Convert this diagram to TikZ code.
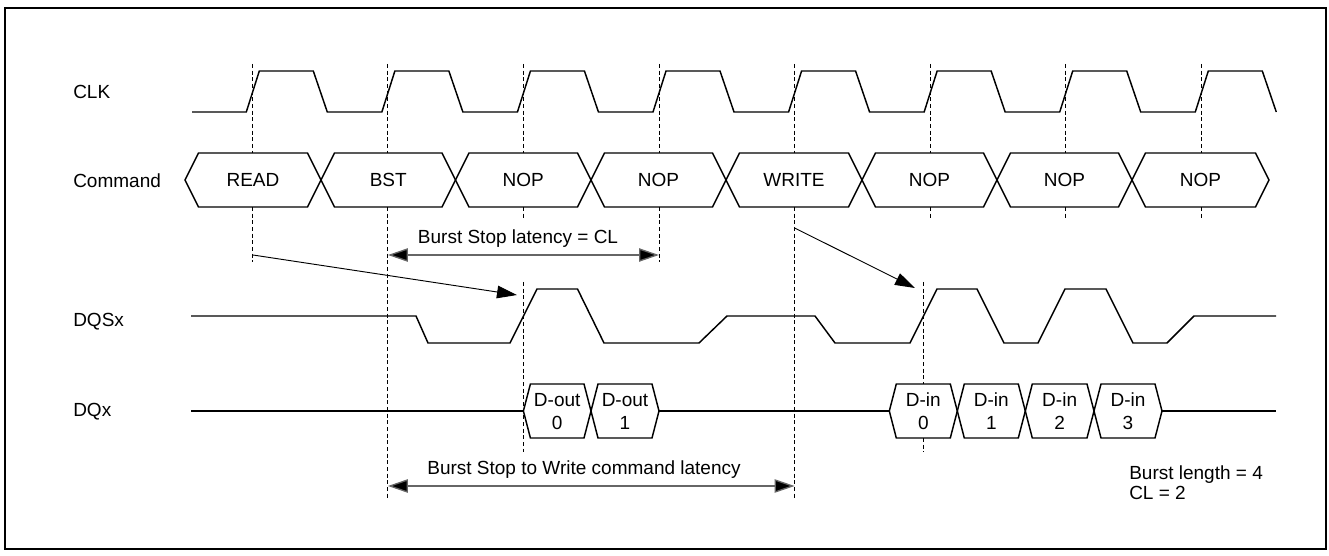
\documentclass[tikz,border=0pt]{standalone}
\usepackage{fontspec}
\setmainfont{Liberation Sans}
\usetikzlibrary{arrows.meta}
\begin{document}
\begin{tikzpicture}[x=0.75pt,y=-0.75pt,
  sig/.style={line width=1.1pt,line join=miter},
  guide/.style={line width=0.7pt,dash pattern=on 3pt off 2pt},
  lbl/.style={font=\fontsize{14.25}{17.25}\selectfont,inner sep=0pt},
  cell/.style={font=\fontsize{14.25}{17.25}\selectfont,inner sep=0pt,align=center},
  dim/.style={line width=1pt,draw=black!60,{Triangle[length=15pt,width=10pt,fill=black]}-{Triangle[length=15pt,width=10pt,fill=black]}},
  ptr/.style={line width=0.7pt,-{Triangle[length=15pt,width=9.5pt]}}]
\useasboundingbox (0,0) rectangle (1329,556);
\draw[line width=1pt] (5,8) rectangle (1326,549);
% row labels
\node[lbl,anchor=west] (lclk) at (73,92) {CLK};
\node[lbl,anchor=west] (lcmd) at (73,181) {Command};
\node[lbl,anchor=west] (ldqs) at (73,322) {DQSx};
\node[lbl,anchor=west] (ldq) at (73,412) {DQx};
% clock
\draw[sig] (192,112) \foreach \k in {0,...,7}{
  -- ({252.3+\k*135.57-6},112) -- ({252.3+\k*135.57+7},71)
  -- ({252.3+\k*135.57+61},71) -- ({252.3+\k*135.57+75},112)};
% guides from clock to command
\foreach \k in {0,...,7}{
  \draw[guide] ({252.3+\k*135.57},64) -- ({252.3+\k*135.57},153);
}
\draw[guide] (252.3,207) -- (252.3,262);
\draw[guide] (387.9,207) -- (387.9,499);
\draw[guide] (523.4,207) -- (523.4,218);
\draw[guide] (659,207) -- (659,262);
\draw[guide] (794.6,207) -- (794.6,499);
\draw[guide] (930.1,207) -- (930.1,218);
\draw[guide] (1065.7,207) -- (1065.7,218);
\draw[guide] (1201.3,207) -- (1201.3,218);
% command row
\def\cmdlist{185/321/READ/cr, 321/455.5/BST/cb, 455.5/591/NOP/cn1, 591/726/NOP/cn2, 726/862/WRITE/cw, 862/997/NOP/cn3, 997/1132/NOP/cn4, 1132/1269/NOP/cn5}
\foreach \a/\b/\t/\n in \cmdlist{
  \draw[sig] (\a,180) -- (\a+13.5,153) -- (\b-13.5,153) -- (\b,180) -- (\b-13.5,207) -- (\a+13.5,207) -- cycle;
  \node[lbl] (\n) at ({(\a+\b)/2},180) {\t};
}
% DQSx
\draw[sig] (191,316) -- (416,316) -- (428,343) -- (510,343) -- (537,289) -- (577.5,289)
  -- (604,343) -- (699,343) -- (727,316) -- (815,316) -- (835,343) -- (910,343)
  -- (937,289) -- (977,289) -- (1004,343) -- (1038,343) -- (1065,289) -- (1106,289)
  -- (1133,343) -- (1167,343) -- (1194,316) -- (1276,316);
\draw[guide] (523.4,282) -- (523.4,452);
\draw[guide] (923,282) -- (923,384);
\draw[guide] (923,438) -- (923,452);
% DQx
\draw[sig] (191,411) -- (523.4,411);
\draw[sig] (659,411) -- (889.3,411);
\draw[sig] (1162,411) -- (1276,411);
\def\dqlist{523.4/591/D-out/0/do0, 591/659/D-out/1/do1, 889.3/957.3/D-in/0/di0, 957.3/1025.3/D-in/1/di1, 1025.3/1094/D-in/2/di2, 1094/1162/D-in/3/di3}
\foreach \a/\b/\t/\s/\n in \dqlist{
  \draw[sig] (\a,411) -- (\a+7,384) -- (\b-7,384) -- (\b,411) -- (\b-7,438) -- (\a+7,438) -- cycle;
  \node[cell] (\n) at ({(\a+\b)/2},411.5) {\t\\\s};
}
% arrows
\coordinate (p1s) at (253,255);
\coordinate (p1e) at (517,295);
\coordinate (p2s) at (794.6,228);
\coordinate (p2e) at (915,288);
\draw[ptr] (p1s) -- (p1e);
\draw[ptr] (p2s) -- (p2e);
% dimensions
\coordinate (d1a) at (387.9,255);
\coordinate (d1b) at (659,255);
\coordinate (d2a) at (387.9,486);
\coordinate (d2b) at (794.6,486);
\draw[dim] (d1a) -- (d1b);
\draw[dim] (d2a) -- (d2b);
\node[lbl] (t1) at (518,239) {Burst Stop latency = CL};
\node[lbl] (t2) at (584,470) {Burst Stop to Write command latency};
\node[lbl,anchor=north west,align=left,font=\fontsize{14.25}{15.5}\selectfont] (note) at (1129,465) {Burst length = 4\\CL = 2};
\end{tikzpicture}
\end{document}
